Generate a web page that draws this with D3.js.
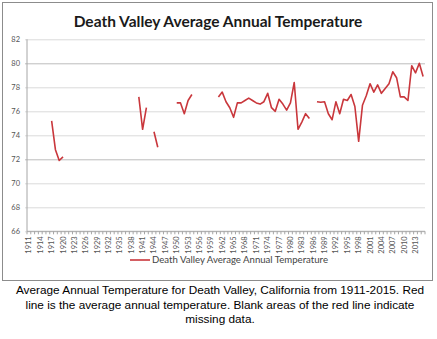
<!DOCTYPE html>
<html>
<head>
<meta charset="utf-8">
<script src="https://cdn.jsdelivr.net/npm/d3@7"></script>
<style>
  body { margin: 0; background: #fff; }
  svg { display: block; }
</style>
</head>
<body>
<script>
// Death Valley average annual temperature, 1911-2015 (null = missing year)
const years = d3.range(1911, 2016);

const temps = [
  null, null, null, null, null, null,            // 1911-1916
  75.2, 72.8, 71.9, 72.2,                        // 1917-1920
  null, null, null, null, null, null, null, null, null, null,
  null, null, null, null, null, null, null, null, null, // 1921-1939
  77.2, 74.5, 76.3,                              // 1940-1942
  null,                                          // 1943
  74.3, 73.0,                                    // 1944-1945
  null, null, null, null,                        // 1946-1949
  76.7, 76.7, 75.8, 76.9, 77.4,                  // 1950-1954
  null, null, null, null, null, null,            // 1955-1960
  77.2, 77.6, 76.8, 76.3, 75.5, 76.7, 76.7, 76.9, 77.1, 76.9, // 1961-1970
  76.7, 76.6, 76.8, 77.5, 76.3, 76.0, 77.0, 76.6, 76.1, 76.7, // 1971-1980
  78.4, 74.5, 75.1, 75.8, 75.4,                  // 1981-1985
  null,                                          // 1986
  76.8, 76.75, 76.8, 75.8,                       // 1987-1990
  75.3, 76.8, 75.8, 77.0, 76.9, 77.4, 76.4, 73.5, 76.5, 77.3, // 1991-2000
  78.3, 77.6, 78.2, 77.5, 77.9, 78.3, 79.3, 78.8, 77.2, 77.2, // 2001-2010
  76.9, 79.8, 79.2, 80.0, 78.9                   // 2011-2015
];

const yTicks = [66, 68, 70, 72, 74, 76, 78, 80, 82];
const xLabelYears = years.filter((y, i) => i % 3 === 0);

const seriesName = 'Death Valley Average Annual Temperature';
const captionLines = [
  'Average Annual Temperature for Death Valley, California from 1911-2015. Red',
  'line is the average annual temperature. Blank areas of the red line indicate',
  'missing data.'
];

const W = 437, H = 339;
const plot = { left: 27, right: 425, top: 39.3, bottom: 231.3 };
const red = '#c9373c';
const font = 'Lato, "Open Sans", sans-serif';

const svg = d3.select('body')
  .append('svg')
  .attr('width', W)
  .attr('height', H);

// chart frame
svg.append('rect')
  .attr('x', 2.5).attr('y', 2.5)
  .attr('width', 430).attr('height', 278)
  .attr('fill', '#fff')
  .attr('stroke', '#8c8c8c')
  .attr('stroke-width', 1);

const x = d3.scaleBand()
  .domain(years)
  .range([plot.left, plot.right])
  .padding(0);

const y = d3.scaleLinear()
  .domain([66, 82])
  .range([plot.bottom, plot.top]);

// gridlines + y labels
const yAxis = d3.axisLeft(y)
  .tickValues(yTicks)
  .tickSize(-(plot.right - plot.left) - 2)
  .tickPadding(5)
  .tickFormat(d3.format('d'));

const gy = svg.append('g')
  .attr('transform', `translate(${plot.left - 2},0)`)
  .call(yAxis);
gy.select('.domain').remove();
gy.selectAll('.tick line')
  .attr('stroke', d => (d === 80 || d === 72) ? '#bdbdbd' : '#dadada')
  .attr('stroke-width', 1);
gy.selectAll('.tick text')
  .attr('font-family', font)
  .attr('font-size', 7.5)
  .attr('fill', '#555');

// y axis line
svg.append('line')
  .attr('x1', plot.left).attr('x2', plot.left)
  .attr('y1', y(82)).attr('y2', y(66))
  .attr('stroke', '#a6a6a6');

// x axis line
svg.append('line')
  .attr('x1', plot.left).attr('x2', plot.right)
  .attr('y1', y(66)).attr('y2', y(66))
  .attr('stroke', '#a6a6a6');

// tick marks between categories
svg.append('g')
  .selectAll('line')
  .data(years.concat([null]))
  .join('line')
  .attr('x1', (d, i) => plot.left + i * x.bandwidth())
  .attr('x2', (d, i) => plot.left + i * x.bandwidth())
  .attr('y1', y(66))
  .attr('y2', y(66) + 3)
  .attr('stroke', '#a6a6a6');

// x labels, rotated
svg.append('g')
  .selectAll('text')
  .data(xLabelYears)
  .join('text')
  .attr('transform', d => `translate(${x(d) + x.bandwidth() / 2 + 2.5},${y(66) + 5}) rotate(-90)`)
  .attr('text-anchor', 'end')
  .attr('font-family', font)
  .attr('font-size', 7.5)
  .attr('fill', '#555')
  .text(d => d);

// the line, broken where data is missing
const line = d3.line()
  .defined(d => d[1] !== null)
  .x(d => x(d[0]) + x.bandwidth() / 2)
  .y(d => y(d[1]));

svg.append('path')
  .datum(years.map((yr, i) => [yr, temps[i]]))
  .attr('fill', 'none')
  .attr('stroke', red)
  .attr('stroke-width', 1.6)
  .attr('stroke-linejoin', 'round')
  .attr('d', line);

// title
svg.append('text')
  .attr('x', 218)
  .attr('y', 27)
  .attr('text-anchor', 'middle')
  .attr('font-family', font)
  .attr('font-weight', 'bold')
  .attr('font-size', 15.5)
  .attr('fill', '#1a1a1a')
  .text(seriesName);

// legend
svg.append('line')
  .attr('x1', 130).attr('x2', 150)
  .attr('y1', 260).attr('y2', 260)
  .attr('stroke', red)
  .attr('stroke-width', 1.6);

svg.append('text')
  .attr('x', 152)
  .attr('y', 263.3)
  .attr('font-family', font)
  .attr('font-size', 9.6)
  .attr('fill', '#444')
  .text(seriesName);

// caption
svg.append('g')
  .selectAll('text')
  .data(captionLines)
  .join('text')
  .attr('x', 220)
  .attr('y', (d, i) => 294 + i * 14.5)
  .attr('text-anchor', 'middle')
  .attr('font-family', '"Liberation Sans", Arial, sans-serif')
  .attr('font-size', 11.8)
  .attr('fill', '#000')
  .text(d => d);
</script>
</body>
</html>
